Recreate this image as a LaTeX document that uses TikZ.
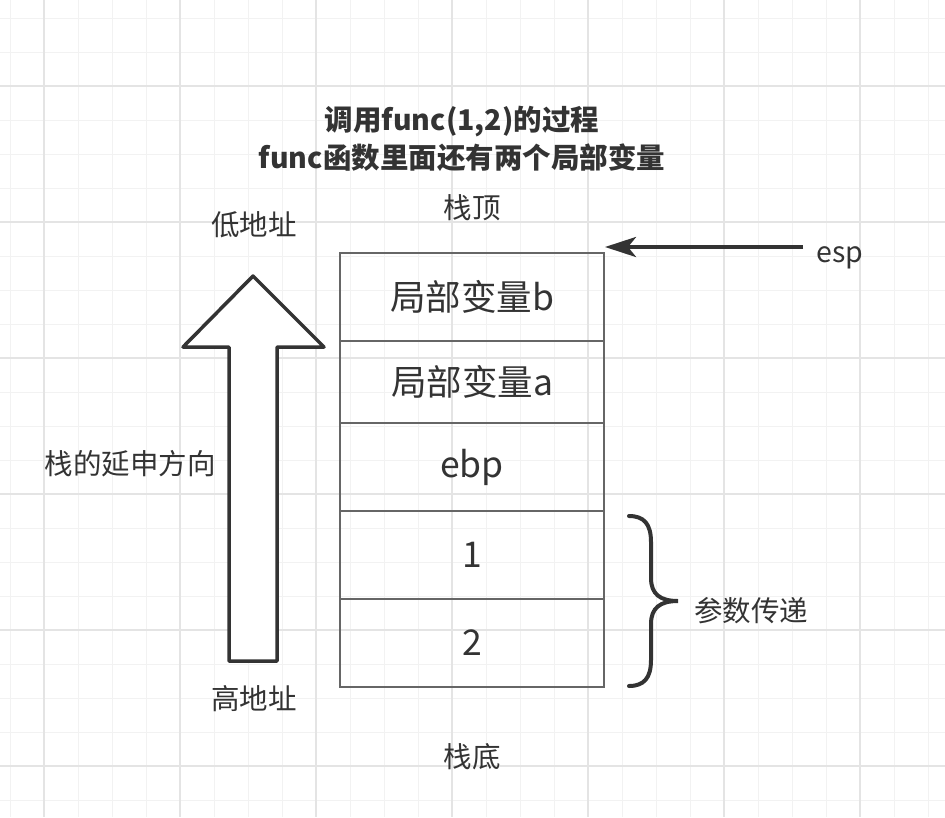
\documentclass[tikz,border=0pt]{standalone}
\usepackage{fontspec}
\setmainfont{Noto Sans CJK SC}
\usetikzlibrary{arrows.meta,positioning}
\definecolor{ink}{HTML}{333333}
\definecolor{edge}{HTML}{666666}
\definecolor{gridminor}{HTML}{F2F2F2}
\definecolor{gridmajor}{HTML}{E4E4E4}

\begin{document}
\begin{tikzpicture}[
  x=1pt, y=-1pt,
  >=Stealth,
  cell/.style={draw=edge, line width=1.5pt, minimum width=264pt,
               minimum height=88pt, outer sep=0pt, inner sep=0pt, text=ink,
               font=\fontsize{35.5}{42}\selectfont},
  note/.style={text=ink, font=\fontsize{28.5}{38}\selectfont, align=center,
               inner sep=0pt},
  heading/.style={text=ink, font=\fontsize{28.5}{38}\selectfont\bfseries,
                  align=center, inner sep=0pt},
  ptr/.style={draw=ink, line width=4pt,
              -{Stealth[length=31pt, width=20pt, inset=8pt]}},
  growth/.style={draw=ink, line width=3.5pt, line join=round, fill=white},
  brace/.style={draw=ink, line width=4pt, line cap=round}
]

% Background grid
\useasboundingbox (0,0) rectangle (945,817);
\fill[white] (0,0) rectangle (945,817);
\foreach \x in {10,44,...,944} \draw[gridminor, line width=1pt] (\x,0) -- (\x,817);
\foreach \y in {18,52,...,816} \draw[gridminor, line width=1pt] (0,\y) -- (945,\y);
\foreach \x in {44,180,...,944} \draw[gridmajor, line width=1.2pt] (\x,0) -- (\x,817);
\foreach \y in {86,222,...,816} \draw[gridmajor, line width=1.2pt] (0,\y) -- (945,\y);

% Title
\node[heading] (title) at (462,139)
  {调用func(1,2)的过程\\func函数里面还有两个局部变量};

% Stack frame
\node[cell] (varb) at (472,297) {局部变量b};
\node[cell, minimum height=82pt, below=0pt of varb] (vara) {局部变量a};
\node[cell, below=0pt of vara] (ebp) {ebp};
\node[cell, below=0pt of ebp] (argone) {1};
\node[cell, below=0pt of argone] (argtwo) {2};

\node[note] (top) at (472,208) {栈顶};
\node[note] (bottom) at (472,757) {栈底};

% Stack pointer
\node[note] (esp) at (840,258) {esp};
\coordinate (esptail) at (803,247);
\coordinate (esptip) at (605,247);
\draw[ptr] (esptail) -- (esptip);

% Growth direction
\draw[growth] (229,661) -- (229,347) -- (183,347) -- (253,276)
  -- (324,347) -- (277,347) -- (277,661) -- cycle;
\node[note] (low) at (254,225) {低地址};
\node[note] (high) at (254,699) {高地址};
\node[note] (grow) at (130,464) {栈的延申方向};

% Arguments brace
\draw[brace] (629,516) .. controls (644,516) and (651,524) .. (651,542)
  -- (651,578) .. controls (651,594) and (660,601) .. (678,601)
  .. controls (660,601) and (651,608) .. (651,624)
  -- (651,660) .. controls (651,678) and (644,686) .. (629,686);
\node[note] (args) at (751,611) {参数传递};

\end{tikzpicture}
\end{document}
